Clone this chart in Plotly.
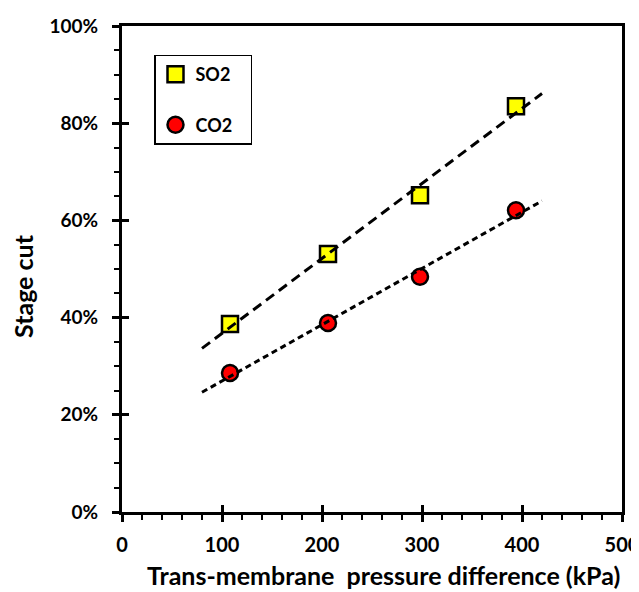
import numpy as np
import plotly.graph_objects as go

# Data
pressure_kpa = [108, 206, 298, 394]
so2_stage_cut = [38.7, 53.1, 65.2, 83.5]   # %
co2_stage_cut = [28.6, 38.9, 48.4, 62.1]   # %
trend_x = [80, 420]

x_ticks = [0, 100, 200, 300, 400, 500]
y_ticks = [0, 20, 40, 60, 80, 100]

FONT = "Lato"
PAD = "\u00a0" * 3  # widen the legend box a little

def fit(xs, ys, xr):
    k, b = np.polyfit(xs, ys, 1)
    return [k * v + b for v in xr]

fig = go.Figure()

fig.add_trace(go.Scatter(
    x=pressure_kpa, y=so2_stage_cut, mode="markers", name="SO2" + PAD,
    legendgroup="so2",
    marker=dict(symbol="square", size=16, color="#FFFF00",
                line=dict(color="black", width=2.5)),
))
fig.add_trace(go.Scatter(
    x=pressure_kpa, y=co2_stage_cut, mode="markers", name="CO2" + PAD,
    legendgroup="co2",
    marker=dict(symbol="circle", size=16, color="#FF0000",
                line=dict(color="black", width=2.5)),
))
fig.add_trace(go.Scatter(
    x=trend_x, y=fit(pressure_kpa, so2_stage_cut, trend_x), mode="lines",
    line=dict(color="black", width=3, dash="10px,6px"), showlegend=False,
))
fig.add_trace(go.Scatter(
    x=trend_x, y=fit(pressure_kpa, co2_stage_cut, trend_x), mode="lines",
    line=dict(color="black", width=3, dash="6px,4px"), showlegend=False,
))
# invisible trace for overlay axes (inside part of major ticks)
fig.add_trace(go.Scatter(x=[None], y=[None], xaxis="x2", yaxis="y2",
                         showlegend=False, hoverinfo="skip"))

axis_common = dict(showgrid=False, zeroline=False, linecolor="black",
                   linewidth=3, mirror=True, ticks="outside", ticklen=7,
                   tickwidth=2.5, tickcolor="black", automargin=False)

# the page body has an 8px margin, so the figure is sized/offset to fit
fig.update_layout(
    width=631, height=584,
    margin=dict(l=114, r=17, t=18, b=80),
    paper_bgcolor="white", plot_bgcolor="white",
    font=dict(family=FONT, color="black", size=18),
    xaxis=dict(range=[0, 500], tickvals=x_ticks,
               ticktext=[str(v) for v in x_ticks],
               tickfont=dict(family=FONT, size=20, weight="bold"),
               ticklabelstandoff=6, ticklabeloverflow="allow",
               minor=dict(dtick=20, ticks="outside", ticklen=5, tickwidth=2,
                          tickcolor="black"),
               **axis_common),
    yaxis=dict(range=[0, 100], tickvals=y_ticks,
               ticktext=[f"{v}%" for v in y_ticks],
               tickfont=dict(family=FONT, size=19, weight="bold"),
               ticklabelstandoff=10,
               minor=dict(dtick=5, ticks="outside", ticklen=5, tickwidth=2,
                          tickcolor="black"),
               **axis_common),
    xaxis2=dict(overlaying="x", range=[0, 500], tickvals=x_ticks,
                showticklabels=False, ticks="inside", ticklen=7, tickwidth=2.5,
                tickcolor="black", showgrid=False, zeroline=False,
                showline=False),
    yaxis2=dict(overlaying="y", range=[0, 100], tickvals=y_ticks,
                showticklabels=False, ticks="inside", ticklen=7, tickwidth=2.5,
                tickcolor="black", showgrid=False, zeroline=False,
                showline=False),
    legend=dict(x=0.064, y=0.941, xanchor="left", yanchor="top",
                bordercolor="black", borderwidth=1.5, bgcolor="white",
                font=dict(family=FONT, size=18, weight="bold"),
                traceorder="grouped", tracegroupgap=24),
    showlegend=True,
    annotations=[
        dict(text="<b>Trans-membrane  pressure difference (kPa)</b>",
             xref="paper", yref="paper", x=0.522, y=-0.13,
             xanchor="center", yanchor="middle", showarrow=False,
             font=dict(family=FONT, size=25)),
        dict(text="<b>Stage cut</b>", textangle=-90,
             xref="paper", yref="paper", x=-0.198, y=0.465,
             xanchor="center", yanchor="middle", showarrow=False,
             font=dict(family=FONT, size=25)),
    ],
)

fig.write_html("out.html")
